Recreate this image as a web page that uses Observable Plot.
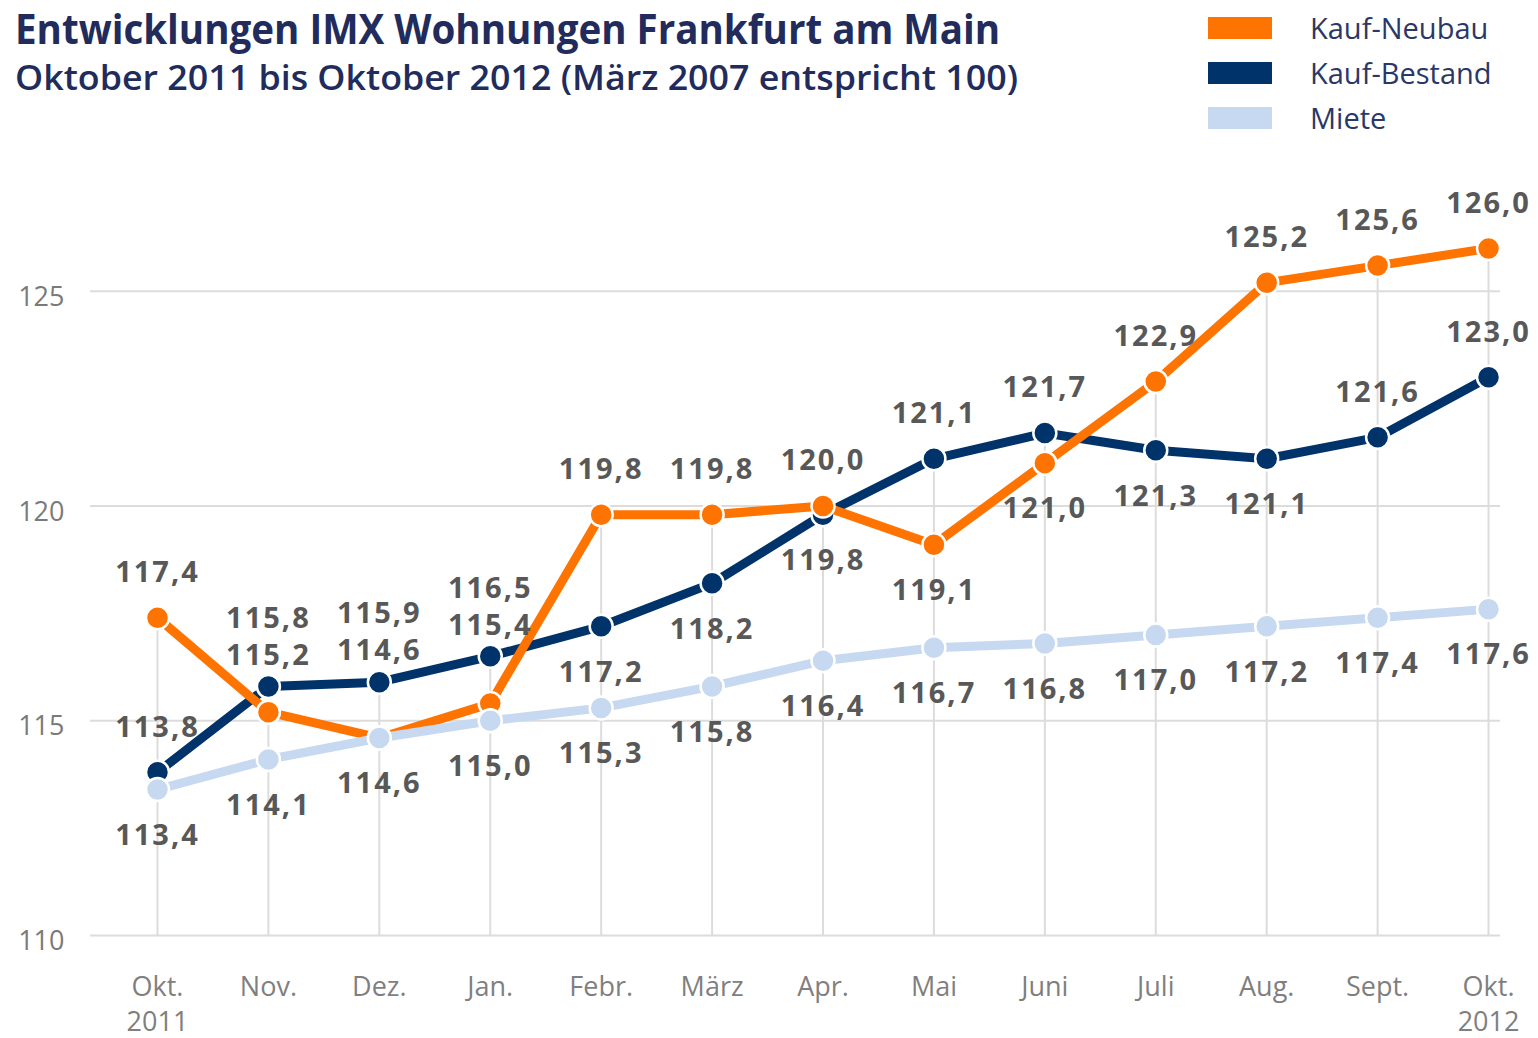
<!DOCTYPE html>
<html>
<head>
<meta charset="utf-8">
<script src="https://cdn.jsdelivr.net/npm/d3@7"></script>
<script src="https://cdn.jsdelivr.net/npm/@observablehq/plot@0.6"></script>
<style>
  html, body { margin: 0; padding: 0; background: #fff; }
  body { width: 1538px; height: 1038px; overflow: hidden; position: relative; font-family: "Open Sans", "Noto Sans", sans-serif; }
  #title { position: absolute; left: 15px; top: 3px; font-size: 42px; font-weight: 700; color: #222c5c; white-space: nowrap; transform-origin: 0 0; line-height: 1.2; }
  #subtitle { position: absolute; left: 15px; top: 57px; font-size: 34px; font-weight: 600; color: #222c5c; white-space: nowrap; transform-origin: 0 0; line-height: 1.2; }
  #legend { position: absolute; left: 1208px; top: 5px; }
  .item { display: flex; align-items: center; height: 45px; }
  .sw { width: 64px; height: 22px; margin-right: 38px; }
  .lab { font-size: 29px; color: #2b3766; white-space: nowrap; }
  #chart { position: absolute; left: 0; top: 140px; }
</style>
</head>
<body>
<div id="title">Entwicklungen IMX Wohnungen Frankfurt am Main</div>
<div id="subtitle">Oktober 2011 bis Oktober 2012 (März 2007 entspricht 100)</div>
<div id="legend"></div>
<div id="chart"></div>
<script>
// ---- data ----
const months = ["Okt.\n2011", "Nov.", "Dez.", "Jan.", "Febr.", "März", "Apr.", "Mai", "Juni", "Juli", "Aug.", "Sept.", "Okt.\n2012"];
const seriesNames = ["Kauf-Neubau", "Kauf-Bestand", "Miete"];
const kaufNeubau  = [117.4, 115.2, 114.6, 115.4, 119.8, 119.8, 120.0, 119.1, 121.0, 122.9, 125.2, 125.6, 126.0];
const kaufBestand = [113.8, 115.8, 115.9, 116.5, 117.2, 118.2, 119.8, 121.1, 121.7, 121.3, 121.1, 121.6, 123.0];
const miete       = [113.4, 114.1, 114.6, 115.0, 115.3, 115.8, 116.4, 116.7, 116.8, 117.0, 117.2, 117.4, 117.6];
const yTicks = [110, 115, 120, 125];
// label placement category per point
const neubauLabelPos  = ["above", "stackLow", "stackLow", "stackLow", "above", "above", "above", "below", "below", "above", "above", "above", "above"];
const bestandLabelPos = ["above", "stackHigh", "stackHigh", "stackHigh", "below", "below", "below", "above", "above", "below", "below", "above", "above"];
const mieteLabelPos   = ["below", "below", "below", "below", "below", "below", "below", "below", "below", "below", "below", "below", "below"];

const colors = {"Kauf-Neubau": "#ff7300", "Kauf-Bestand": "#00336a", "Miete": "#c6d9f1"};

// ---- legend ----
const legend = document.getElementById("legend");
seriesNames.forEach(n => {
  const it = document.createElement("div"); it.className = "item";
  const sw = document.createElement("div"); sw.className = "sw"; sw.style.background = colors[n];
  const lb = document.createElement("div"); lb.className = "lab"; lb.textContent = n;
  it.appendChild(sw); it.appendChild(lb); legend.appendChild(it);
});

// ---- table ----
const fmt = v => d3.format(".1f")(v).replace(".", ",");
const seriesValues = [kaufNeubau, kaufBestand, miete];
const seriesPos = [neubauLabelPos, bestandLabelPos, mieteLabelPos];
const rows = [];
seriesNames.forEach((name, s) => {
  seriesValues[s].forEach((v, i) => {
    const pos = seriesPos[s][i];
    const anchor = pos.startsWith("stack") ? kaufBestand[i] : v;
    rows.push({i, value: v, series: name, pos, anchor, label: fmt(v)});
  });
});
const cols = months.map((m, i) => ({i, max: Math.max(kaufNeubau[i], kaufBestand[i], miete[i])}));

const offsets = {above: -45, below: 46, stackHigh: -68, stackLow: -31};
const drawOrder = ["Kauf-Bestand", "Kauf-Neubau", "Miete"];

const marks = [
  Plot.gridY(yTicks, {stroke: "#dcdcdc", strokeWidth: 2, strokeOpacity: 1}),
  Plot.ruleX(cols, {x: "i", y1: 110, y2: "max", stroke: "#dcdcdc", strokeWidth: 2}),
  Plot.axisY({ticks: yTicks, tickSize: 0, tickPadding: 26, fontSize: 27, fill: "#7a7a7a", dy: 6, label: null}),
  Plot.axisX({ticks: d3.range(months.length), tickFormat: i => months[i], tickSize: 0, tickPadding: 36, fontSize: 27, fill: "#7f7f7f", lineHeight: 1.28, label: null})
];
drawOrder.forEach(name => {
  const d = rows.filter(r => r.series === name);
  marks.push(Plot.line(d, {x: "i", y: "value", stroke: colors[name], strokeWidth: 9, strokeLinejoin: "round"}));
  marks.push(Plot.dot(d, {x: "i", y: "value", r: 11.5, fill: colors[name], stroke: "#fff", strokeWidth: 2.5}));
});
Object.keys(offsets).forEach(p => {
  marks.push(Plot.text(rows.filter(r => r.pos === p), {
    x: "i", y: "anchor", text: "label", dy: offsets[p],
    fontSize: 29, fontWeight: 700, fill: "#585858"
  }));
});

const chart = Plot.plot({
  width: 1538,
  height: 898,
  marginLeft: 90,
  marginRight: 38,
  marginTop: 10,
  marginBottom: 103,
  style: {fontFamily: "'Open Sans', 'Noto Sans', sans-serif", background: "#fff", overflow: "visible"},
  x: {type: "linear", domain: [-0.604, 12.108], axis: null},
  y: {domain: [110, 128.28], axis: null},
  marks
});
document.getElementById("chart").appendChild(chart);
d3.select(chart).selectAll("g[aria-label='text'] text").style("letter-spacing", "2px");

function fit(id, w) {
  const el = document.getElementById(id);
  el.style.transform = "none";
  const r = el.getBoundingClientRect();
  if (r.width > 0) el.style.transform = `scaleX(${w / r.width})`;
}
function fitAll() { fit("title", 985); fit("subtitle", 1003); }
fitAll();
if (document.fonts && document.fonts.ready) document.fonts.ready.then(fitAll);
</script>
</body>
</html>
